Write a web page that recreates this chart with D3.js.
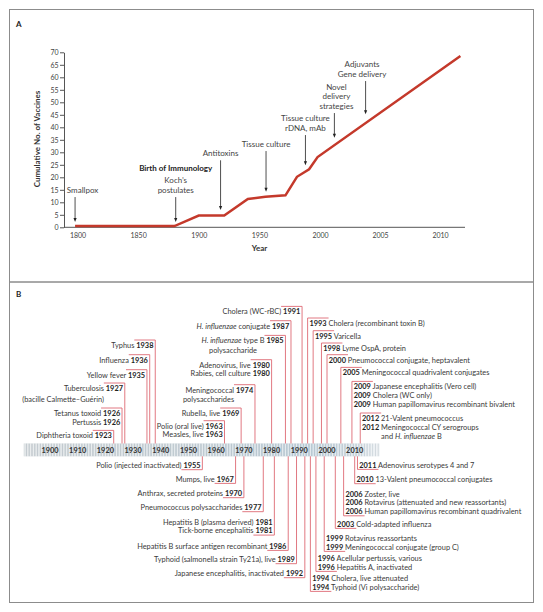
<!DOCTYPE html>
<html><head><meta charset="utf-8">
<script src="https://cdn.jsdelivr.net/npm/d3@7"></script>
<style>
body{margin:0;background:#fff}
svg{display:block}
text{font-family:Lato,"Open Sans",sans-serif;white-space:pre}
</style>
</head><body>
<svg id="c" width="543" height="612"></svg>
<script>
// ---------------- Panel A data ----------------
const lineYears  = [1798, 1880, 1900, 1921, 1940.5, 1955, 1971.5, 1981, 1991, 1998, 2011.7];
const lineValues = [0.5, 0.5, 4.7, 4.7, 11.3, 12.2, 12.8, 20.2, 23.2, 28.1, 68.5];
const yTickValues = [0,5,10,15,20,25,30,35,40,45,50,55,60,65,70];
const xTickValues = [1800,1850,1900,1950,2000,2005,2010];
const xTickLabels = ["1800","1850","1900","1950","2000","2005","2010"];
// annotations: year of arrow, label lines, arrow from/to (values)
const annotYears  = [1798, 1881, 1918, 1955.5, 1988, 2001.2, 2003.8];
const annotLabels = [
  ["Smallpox"],
  ["Birth of Immunology","Koch\u2019s","postulates"],
  ["Antitoxins"],
  ["Tissue culture"],
  ["Tissue culture","rDNA, mAb"],
  ["Novel","delivery","strategies"],
  ["Adjuvants","Gene delivery"]
];
const annotFrom = [12.1, 12.1, 26.8, 30.5, 36.9, 45.7, 58.5];
const annotTo   = [2.1, 2.1, 6.9, 14.2, 24.8, 35.8, 45.2];

// ---------------- Panel B data ----------------
const decades = [1900,1910,1920,1930,1940,1950,1960,1970,1980,1990,2000,2010];
const aboveLeft = [
  {year:1923, lines:["Diphtheria toxoid"]},
  {year:1926, lines:["Tetanus toxoid","Pertussis"]},
  {year:1927, lines:["Tuberculosis"], note:"(bacille Calmette\u2013Gu\u00e9rin)"},
  {year:1935, lines:["Yellow fever"]},
  {year:1936, lines:["Influenza"]},
  {year:1938, lines:["Typhus"]},
  {year:1963, lines:["Polio (oral live)","Measles, live"]},
  {year:1969, lines:["Rubella, live"]},
  {year:1974, lines:["Meningococcal"], note:"polysaccharides"},
  {year:1980, lines:["Adenovirus, live","Rabies, cell culture"]},
  {year:1985, lines:["*H. influenzae* type B"], note:"polysaccharide"},
  {year:1987, lines:["*H. influenzae* conjugate"]},
  {year:1991, lines:["Cholera (WC-rBC)"]}
];
const belowLeft = [
  {year:1955, lines:["Polio (injected inactivated)"]},
  {year:1967, lines:["Mumps, live"]},
  {year:1970, lines:["Anthrax, secreted proteins"]},
  {year:1977, lines:["Pneumococcus polysaccharides"]},
  {year:1981, lines:["Hepatitis B (plasma derived)","Tick-borne encephalitis"]},
  {year:1986, lines:["Hepatitis B surface antigen recombinant"]},
  {year:1989, lines:["Typhoid (salmonella strain Ty21a), live"]},
  {year:1992, lines:["Japanese encephalitis, inactivated"]}
];
const aboveRight = [
  {year:1993, lines:["Cholera (recombinant toxin B)"]},
  {year:1995, lines:["Varicella"]},
  {year:1998, lines:["Lyme OspA, protein"]},
  {year:2000, lines:["Pneumococcal conjugate, heptavalent"]},
  {year:2005, lines:["Meningococcal quadrivalent conjugates"]},
  {year:2009, lines:["Japanese encephalitis (Vero cell)","Cholera (WC only)","Human papillomavirus recombinant bivalent"]},
  {year:2012, lines:["21-Valent pneumococcus","Meningococcal CY serogroups"], note:"and *H. influenzae* B"}
];
const belowRight = [
  {year:2011, lines:["Adenovirus serotypes 4 and 7"]},
  {year:2010, lines:["13-Valent pneumococcal conjugates"]},
  {year:2006, lines:["Zoster, live","Rotavirus (attenuated and new reassortants)","Human papillomavirus recombinant quadrivalent"]},
  {year:2003, lines:["Cold-adapted influenza"]},
  {year:1999, lines:["Rotavirus reassortants","Meningococcal conjugate (group C)"]},
  {year:1996, lines:["Acellular pertussis, various","Hepatitis A, inactivated"]},
  {year:1994, lines:["Cholera, live attenuated","Typhoid (Vi polysaccharide)"]}
];

// ---------------- layout (positions / styles) ----------------
const rowsAboveLeft  = [435.7, 413.3, 388.3, 375, 360, 345.3, 426, 413.3, 390, 365, 340.7, 326, 311.7];
const rowsBelowLeft  = [465.3, 479, 493.3, 507.3, 522, 546, 559.3, 573.3];
const rowsAboveRight = [323.3, 336, 348.3, 360, 372.7, 386.7, 418.3];
const rowsBelowRight = [465, 479.3, 494, 524, 538.3, 558.3, 578.3];
const noteAlign = {1927:"end", 1974:"start", 1985:"middle", 2012:"nameStart"};
const noteGap = {1927:10.7, 1974:9.3, 1985:9.3, 2012:9.4};
const annotDx = [7.5, 0, 0, 0, 0, 2, -3.5];

const RED_LINE = "#c4392b";
const RED_THIN = "#de6a74";
const TXT = "#3a3a3a";
const FONT = 'Lato, "Open Sans", sans-serif';

const svg = d3.select("#c");

// frames
svg.append("rect").attr("x",9.5).attr("y",9.5).attr("width",524).attr("height",272.5)
  .attr("fill","none").attr("stroke","#8c8c8c").attr("stroke-width",1);
svg.append("rect").attr("x",9.5).attr("y",282).attr("width",524).attr("height",320.5)
  .attr("fill","none").attr("stroke","#8c8c8c").attr("stroke-width",1);
svg.append("text").attr("x",16).attr("y",27).attr("font-size",8).attr("font-weight","bold").attr("fill","#222").text("A");
svg.append("text").attr("x",16).attr("y",297).attr("font-size",8).attr("font-weight","bold").attr("fill","#222").text("B");

// ---------------- Panel A ----------------
const xA = d3.scaleLinear().domain([1800,2000,2010]).range([77.5,320,440]);
const yA = d3.scaleLinear().domain([0,70]).range([227.3,52.3]);
const gA = svg.append("g");

const yAxis = d3.axisLeft(yA).tickValues(yTickValues).tickSize(4).tickSizeOuter(0).tickPadding(1.5);
const gy = gA.append("g").attr("transform","translate(64,0)").call(yAxis);
gy.select(".domain").attr("stroke","#555");
gy.selectAll(".tick line").attr("stroke","#555");
gy.selectAll(".tick text").attr("font-size",7).attr("fill","#444").attr("font-family",FONT);

const xAxis = d3.axisBottom(xA).tickValues(xTickValues).tickSize(0).tickPadding(6)
  .tickFormat((d,i)=>xTickLabels[i]);
const gx = gA.append("g").attr("transform","translate(0,227.3)").call(xAxis);
gx.select(".domain").remove();
gx.selectAll(".tick text").attr("font-size",7).attr("fill","#444").attr("font-family",FONT);
gA.append("line").attr("x1",64).attr("x2",465).attr("y1",227.3).attr("y2",227.3).attr("stroke","#555");

gA.append("text").attr("x",259.5).attr("y",251).attr("text-anchor","middle")
  .attr("font-size",8).attr("font-weight","bold").attr("fill","#333").text("Year");
gA.append("text").attr("transform","translate(40,139) rotate(-90)").attr("text-anchor","middle")
  .attr("font-size",8).attr("font-weight","bold").attr("fill","#333").text("Cumulative No. of Vaccines");

const lineData = lineYears.map((yr,i)=>({year:yr, value:lineValues[i]}));
gA.append("path").datum(lineData)
  .attr("d", d3.line().x(d=>xA(d.year)).y(d=>yA(d.value)))
  .attr("fill","none").attr("stroke",RED_LINE).attr("stroke-width",2.5);

annotYears.forEach((yr,i)=>{
  const ax = xA(yr);
  const y1 = yA(annotFrom[i]), y2 = yA(annotTo[i]);
  gA.append("line").attr("x1",ax).attr("x2",ax).attr("y1",y1).attr("y2",y2-3)
    .attr("stroke","#222").attr("stroke-width",0.8);
  gA.append("path").attr("d",`M${ax-1.6},${y2-4}L${ax+1.6},${y2-4}L${ax},${y2}Z`).attr("fill","#222");
  const lines = annotLabels[i];
  const n = lines.length;
  lines.forEach((ln,k)=>{
    const isBold = ln==="Birth of Immunology";
    let yy = y1 - 4 - (n-1-k)*9.6;
    if (i===1 && k===0) yy -= 2.4;
    gA.append("text").attr("x",ax+annotDx[i]).attr("y",yy).attr("text-anchor","middle")
      .attr("font-size",8).attr("font-weight",isBold?"bold":"normal").attr("fill",isBold?"#222":"#444").text(ln);
  });
});

// ---------------- Panel B ----------------
const xB = d3.scaleLinear().domain([1900,2010]).range([50,354.7]);
const gB = svg.append("g");
const barTop = 443.5, barBot = 456.3;
const FS = 7.4, BASE = 2.6, LS = 8.7, GAP = 1.8;

// bar
const defs = svg.append("defs");
const grad = defs.append("linearGradient").attr("id","barg").attr("x1","0").attr("x2","1");
grad.append("stop").attr("offset","0").attr("stop-color","#d6dbde");
grad.append("stop").attr("offset","0.45").attr("stop-color","#ccd6dc");
grad.append("stop").attr("offset","0.8").attr("stop-color","#c2d3de");
grad.append("stop").attr("offset","0.93").attr("stop-color","#d3dee5");
grad.append("stop").attr("offset","1").attr("stop-color","#eef2f5");
gB.append("rect").attr("x",xB(1890.5)).attr("y",barTop).attr("width",xB(2019)-xB(1890.5)).attr("height",barBot-barTop)
  .attr("fill","url(#barg)");
const stripeYears = d3.range(1891, 2019, 1);
gB.selectAll(".stripe").data(stripeYears).enter().append("line")
  .attr("x1",d=>xB(d)).attr("x2",d=>xB(d)).attr("y1",barTop).attr("y2",barBot)
  .attr("stroke","#f4f6f7").attr("stroke-width",1).attr("opacity",0.75);
gB.selectAll(".stripe2").data(stripeYears).enter().append("line")
  .attr("x1",d=>xB(d+0.5)).attr("x2",d=>xB(d+0.5)).attr("y1",barTop).attr("y2",barBot)
  .attr("stroke","#9aa6ae").attr("stroke-width",0.5).attr("opacity",0.6);
gB.selectAll(".dec").data(decades).enter().append("text")
  .attr("x",d=>xB(d)).attr("y",450+BASE).attr("text-anchor","middle")
  .attr("font-size",FS).attr("font-weight","bold").attr("fill","#333").text(d=>d);

// helpers
const meas = svg.append("text").attr("font-size",FS).attr("x",-999).attr("y",-999);
function measure(str, bold, italic){
  meas.attr("font-weight",bold?"bold":"normal").attr("font-style",italic?"italic":"normal").text(str);
  return meas.node().getComputedTextLength();
}
function richWidth(str){
  let w=0; str.split("*").forEach((p,i)=>{ if(p) w+=measure(p,false,i%2===1); }); return w;
}
function addRich(t, str){
  str.split("*").forEach((p,i)=>{ if(p) t.append("tspan").attr("font-style",i%2===1?"italic":"normal").text(p); });
}

function drawGroup(entries, rows, side, pos){
  entries.forEach((e,i)=>{
    const xv = xB(e.year);
    const y0 = rows[i];
    const ys = e.lines.map((_,k)=>y0+k*LS);
    const yearW = measure(String(e.year), true);
    const spW = measure(" ", false);
    e.lines.forEach((ln,k)=>{
      const t = gB.append("text").attr("y",ys[k]+BASE).attr("font-size",FS).attr("fill",TXT);
      if (side==="left"){
        t.attr("x",xv-GAP).attr("text-anchor","end");
        addRich(t, ln+" ");
        t.append("tspan").attr("font-weight","bold").attr("fill","#1e1e1e").text(e.year);
      } else {
        t.attr("x",xv+GAP).attr("text-anchor","start");
        t.append("tspan").attr("font-weight","bold").attr("fill","#1e1e1e").text(e.year);
        addRich(t, " "+ln);
      }
    });
    if (e.note){
      const nameW = richWidth(e.lines[e.lines.length-1]);
      let nx, anchor;
      const al = noteAlign[e.year];
      const ny = ys[ys.length-1] + noteGap[e.year];
      if (side==="left"){
        const nameEnd = xv-GAP-yearW-spW, nameStart = nameEnd-nameW;
        if (al==="end"){nx=nameEnd; anchor="end";}
        else if (al==="start"){nx=nameStart-2.5; anchor="start";}
        else {nx=(nameStart+nameEnd)/2; anchor="middle";}
      } else {
        nx = xv+GAP+yearW+spW; anchor="start";
      }
      const t = gB.append("text").attr("x",nx).attr("y",ny+BASE).attr("font-size",FS).attr("fill",TXT).attr("text-anchor",anchor);
      addRich(t, e.note);
    }
    // bracket
    const hx = side==="left" ? xv-GAP-yearW-2 : xv+GAP+yearW+2;
    let hy, vy1, vy2;
    if (pos==="above"){ hy = ys[0]-5.3; vy1 = hy; vy2 = barTop; }
    else { hy = ys[ys.length-1]+4.4; vy1 = barBot; vy2 = hy; }
    gB.append("path").attr("d",`M${hx},${hy}H${xv}`)
      .attr("stroke",RED_THIN).attr("stroke-width",0.9).attr("fill","none");
    gB.append("line").attr("x1",xv).attr("x2",xv).attr("y1",vy1).attr("y2",vy2)
      .attr("stroke",RED_THIN).attr("stroke-width",0.9);
  });
}
drawGroup(aboveLeft, rowsAboveLeft, "left", "above");
drawGroup(belowLeft, rowsBelowLeft, "left", "below");
drawGroup(aboveRight, rowsAboveRight, "right", "above");
drawGroup(belowRight, rowsBelowRight, "right", "below");
meas.remove();
</script>
</body></html>
